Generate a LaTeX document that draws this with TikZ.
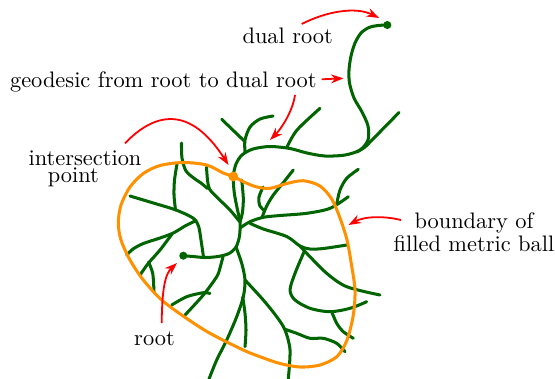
\documentclass[tikz,border=0pt]{standalone}
\usetikzlibrary{arrows.meta}
\definecolor{treegreen}{RGB}{0,100,0}
\definecolor{ballorange}{RGB}{255,145,0}
\begin{document}
\begin{tikzpicture}[x=0.4464pt,y=-0.4464pt,
  tree/.style={draw=treegreen,line width=1.35pt,line cap=round,line join=round},
  ball/.style={draw=ballorange,line width=1.35pt},
  pointer/.style={draw=red,line width=0.8pt,-{Stealth[length=5.6pt,width=4pt]}},
  lbl/.style={inner sep=0pt,anchor=base,font=\fontsize{10}{12}\selectfont},
  gdot/.style={circle,fill=treegreen,inner sep=0pt,minimum size=3.6pt},
  odot/.style={circle,fill=ballorange,inner sep=0pt,minimum size=4.4pt}]
\useasboundingbox (0,0) rectangle (555,378);

% ---------------- tree (geodesic) ----------------
\draw[tree] plot[smooth] coordinates {(387.3,25) (378,25.5) (369,27.5) (361,33) (355,43) (351,56) (349,70) (349.5,83) (354,98) (362,112) (368,126) (368,140) (360,150) (345,155) (325,156) (307,153) (290,148.5) (270,146.5) (253,149) (242,155) (236,164) (233.3,176.5) (234.3,193) (237.5,210) (240,222) (239.5,236) (236,247) (229,253.5) (218,256.5) (205,257.5) (193,256.5) (183.3,255.7)};

% ---------------- tree branches ----------------
\draw[tree] plot[smooth] coordinates {(357,152) (365,147) (372,140) (399,112.5)};
\draw[tree] plot[smooth] coordinates {(287,147) (297,130) (320,108.3)};
\draw[tree] plot[smooth] coordinates {(245,152) (245,140) (250,127) (260,119) (273,116)};
\draw[tree] plot[smooth] coordinates {(221.7,119.3) (245,141.7)};
\draw[tree] plot[smooth] coordinates {(181.5,143) (182,158) (186,171) (195,179) (201,183) (207.5,188.5)};
\draw[tree] plot[smooth] coordinates {(206.5,167) (207.5,180) (209.5,189) (216.7,197) (230,210) (239.5,221.5)};
\draw[tree] plot[smooth] coordinates {(241.7,180) (243.3,198) (242.5,212) (240,222)};
\draw[tree] plot[smooth] coordinates {(130,196) (155,203.5) (176,210) (193,218) (198.5,226) (201,240) (203.5,257)};
\draw[tree] plot[smooth] coordinates {(177,164) (174.5,180) (174,195) (175.5,210)};
\draw[tree] plot[smooth] coordinates {(196,220.5) (185,226) (173.3,233) (160,238) (143.3,243.5) (133,249) (126.7,255)};
\draw[tree] plot[smooth] coordinates {(172,234) (160,250) (148.3,263.3) (140,275)};
\draw[tree] plot[smooth] coordinates {(148.5,262) (152.7,273.3) (154,291.7)};
\draw[tree] plot[smooth] coordinates {(223,256.5) (220,268) (216.7,276.7) (203.3,295) (185,315)};
\draw[tree] plot[smooth] coordinates {(171.7,305) (186.7,296.7) (203.3,292.7) (210,293.5)};
\draw[tree] plot[smooth] coordinates {(236,247) (241.7,263.3) (245,280) (243.3,296.7) (236.7,316.7) (226.7,340) (216.7,360) (209,379)};
\draw[tree] plot[smooth] coordinates {(242.7,297) (245,313.3) (246,330) (245,346.7)};
\draw[tree] plot[smooth] coordinates {(245,280) (263.3,300) (276.7,316.7) (285,330) (290,350) (288.3,379)};
\draw[tree] plot[smooth] coordinates {(285,329.3) (296.7,333.3) (310,338.3) (323.3,338.3) (336.7,343.3) (345,351.7)};
\draw[tree] plot[smooth] coordinates {(240,228) (250,221.7) (263.3,217.3) (280,215.5) (306.7,213.3) (330,208.3) (348.3,196.7)};
\draw[tree] plot[smooth] coordinates {(336.7,204) (340,190) (346.7,178.3) (358.3,169.3)};
\draw[tree] plot[smooth] coordinates {(293.3,170) (283,183) (273.3,195) (266.7,206) (262,217.5)};
\draw[tree] plot[smooth] coordinates {(263,187) (259,197) (259.5,205) (264,210.5)};
\draw[tree] plot[smooth] coordinates {(250,223.3) (263.3,229) (286.7,236.5) (300,246) (310,249) (323.3,248.5) (346.7,245)};
\draw[tree] plot[smooth] coordinates {(300,246) (306.7,253.3) (326.7,273.3) (346.7,286.7) (380,295)};
\draw[tree] plot[smooth] coordinates {(304,252) (295,273.3) (290,290) (295,300) (310,308.3) (330,311.7) (350,308.3) (366.7,301.7)};
\draw[tree] plot[smooth] coordinates {(331.7,311.7) (336.7,323.3) (343.3,331.7) (353.3,338.3)};

% ---------------- boundary of filled metric ball ----------------
\draw[ball] plot[smooth cycle] coordinates {(233.3,176.5) (245,182.5) (257,187) (270,188.3) (286.7,183.5) (303.3,180.7) (320,186) (331.7,199) (340,218) (347,240) (351.5,265) (355,290) (353.3,315) (347,340) (337,356.5) (320,365) (300,367) (280,363.5) (260,356.7) (243.3,350) (210,333.3) (185,317.3) (161.7,300) (143.3,280) (130,260) (121,240) (118.3,223) (121,205) (130,187) (143.3,173.5) (160,165.5) (183.3,162.5) (206.7,165) (223.3,173)};

% ---------------- special points ----------------
\node[gdot] (dualroot) at (387.3,25) {};
\node[gdot] (root) at (183.3,255.7) {};
\node[odot] (inter) at (233.3,176.5) {};

% ---------------- labels ----------------
\node[lbl] (tdual) at (287.7,43.3) {dual root};
\node[lbl] (tgeo) at (163.3,87.3) {geodesic from root to dual root};
\node[lbl,align=center] (tint) at (85,182.7) {intersection\\[-4.5pt]point\rule{10.4pt}{0pt}};
\node[lbl,align=center] (tball) at (474,251.7) {boundary of\\[-1.5pt]filled metric ball};
\node[lbl] (troot) at (154.5,345) {root};

% ---------------- arrow anchors ----------------
\coordinate (a1s) at (301.7,24);   \coordinate (a1e) at (379,18);
\coordinate (a2s) at (321.7,79.3); \coordinate (a2e) at (343.5,78.3);
\coordinate (a3s) at (295,95);     \coordinate (a3e) at (270,140);
\coordinate (a4s) at (125,143.3);  \coordinate (a4e) at (228.5,165);
\coordinate (a5s) at (401,220);    \coordinate (a5e) at (348.5,225);
\coordinate (a6s) at (161.7,323);  \coordinate (a6e) at (177,263);

\draw[pointer] (a1s) .. controls (325,12) and (355,6) .. (a1e);
\draw[pointer] (a2s) -- (a2e);
\draw[pointer] (a3s) .. controls (293,110) and (282,128) .. (a3e);
\draw[pointer] (a4s) .. controls (155,112) and (190,105) .. (a4e);
\draw[pointer] (a5s) .. controls (385,216) and (365,216) .. (a5e);
\draw[pointer] (a6s) .. controls (162,295) and (164,275) .. (a6e);
\end{tikzpicture}
\end{document}
